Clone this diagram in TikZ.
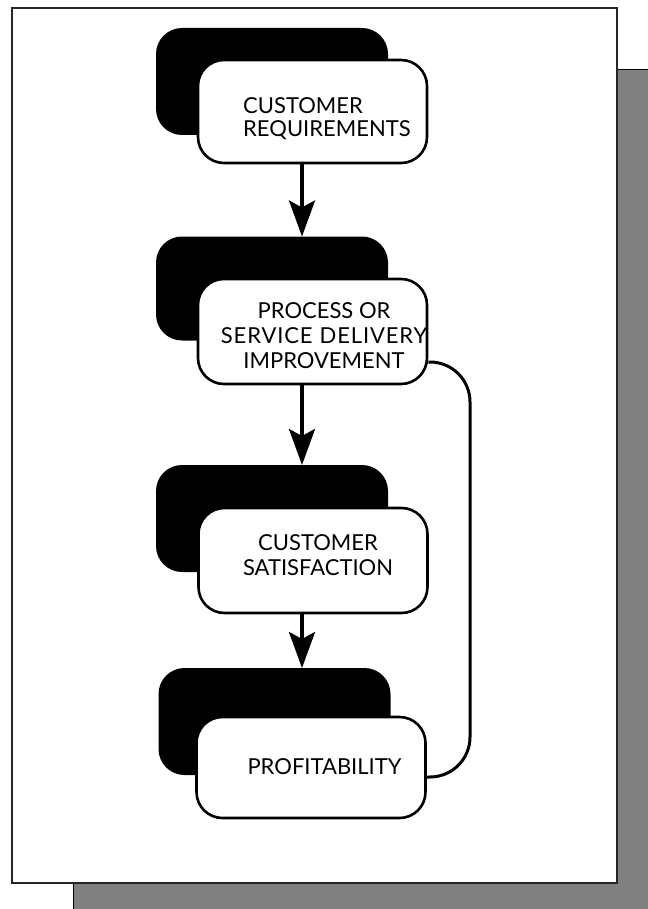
\documentclass[tikz,border=0pt]{standalone}
\usepackage{fontspec}
\setmainfont{Lato}
\newfontfamily\spacedfont[LetterSpace=4]{Lato}
\usetikzlibrary{arrows.meta,calc}
\begin{document}
\begin{tikzpicture}[x=1pt,y=-1pt,
  shadowbox/.style={fill=black, rounded corners=26pt, minimum width=232pt, minimum height=#1, inner sep=0pt, outer sep=0pt},
  whitebox/.style={fill=white, draw=black, line width=2.6pt, rounded corners=26pt, minimum width=229pt, minimum height=#1, inner sep=0pt},
  lbl/.style={font=\fontsize{22}{25}\selectfont, inner sep=0pt},
  arr/.style={line width=3.6pt, -{Stealth[length=36pt,width=26pt,inset=7pt]}},
  link/.style={line width=3pt, rounded corners=40pt}]
\useasboundingbox (0,0) rectangle (647,909);
% paper shadow and page
\draw[line width=1pt, fill=black!50] (73,70) rectangle (650,912);
\draw[line width=2pt, draw=black!85, fill=white] (12,8) rectangle (617,883);
% box 1
\node[shadowbox=107pt] (b1b) at (272,81.5) {};
\node[whitebox=103pt] (b1w) at (312.5,111.5) {};
\node[lbl, align=left, anchor=west] (t1) at (243,118.5) {CUSTOMER\\[-2pt]REQUIREMENTS};
% box 2
\node[shadowbox=104pt] (b2b) at (272,288.5) {};
\node[whitebox=105pt] (b2w) at (312.5,331.5) {};
\node[lbl, align=center] (t2) at (324,335.5) {PROCESS OR\\[0.5pt]{\spacedfont SERVICE\hspace{7pt}DELIVERY}\\IMPROVEMENT};
% box 3
\node[shadowbox=107pt] (b3b) at (272,518.5) {};
\node[whitebox=105pt] (b3w) at (313,560.5) {};
\node[lbl, align=center] (t3) at (318,555.5) {CUSTOMER\\SATISFACTION};
% box 4
\node[shadowbox=107pt] (b4b) at (274.5,721.5) {};
\node[whitebox=101pt] (b4w) at (311,767.5) {};
\node[lbl] (t4) at (324.5,767) {PROFITABILITY};
% arrows
\coordinate (ax) at (302,0);
\draw[arr] (b1w.south -| ax) -- (b2b.north -| ax);
\draw[arr] (b2w.south -| ax) -- (b3b.north -| ax);
\draw[arr] (b3w.south -| ax) -- (b4b.north -| ax);
% feedback connector
\coordinate (fa) at ($(b2w.east)+(0,30.5)$);
\coordinate (fb) at ($(b4w.east)+(0,9.5)$);
\coordinate (rx) at (470,560);
\draw[link] (fa) -| (rx) |- (fb);
\end{tikzpicture}
\end{document}
